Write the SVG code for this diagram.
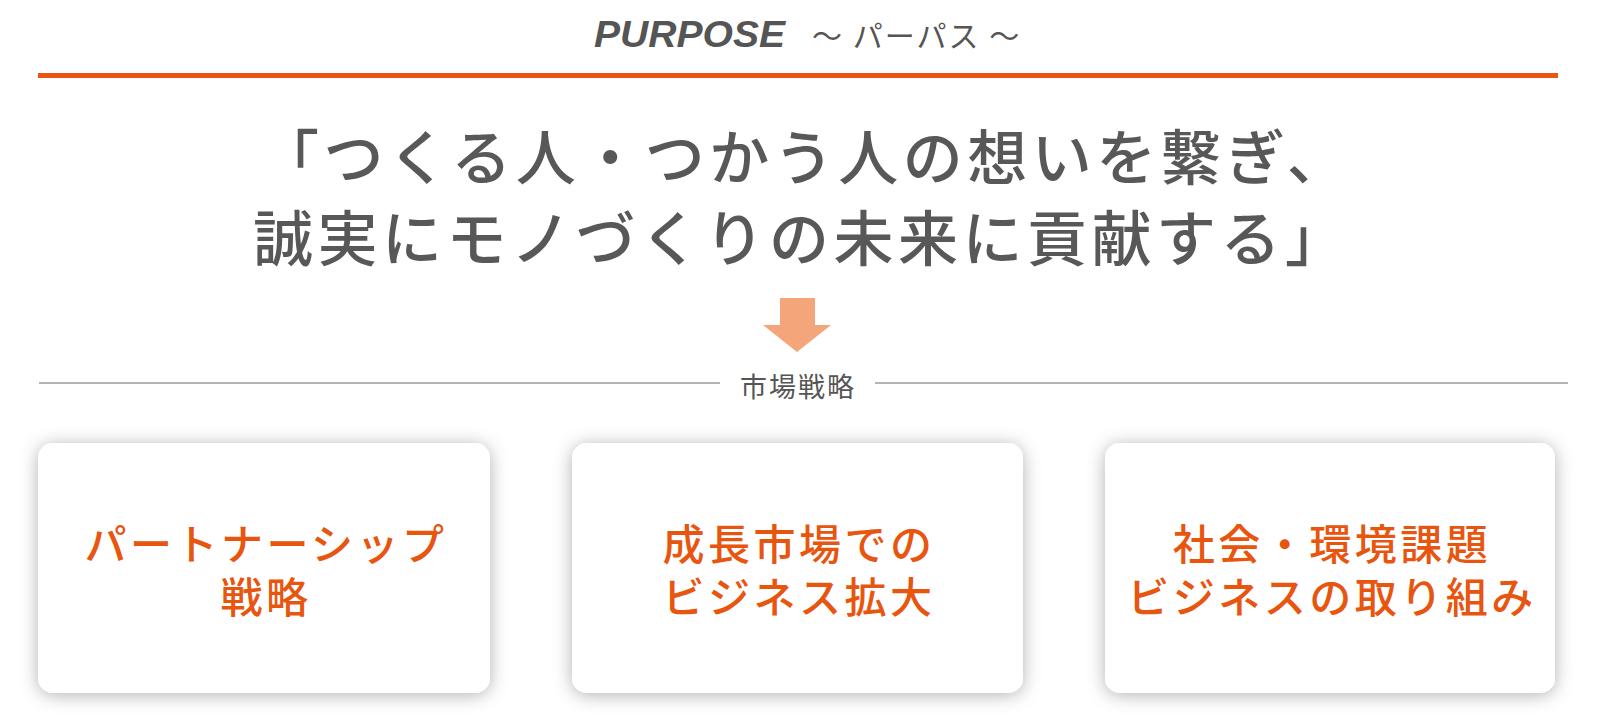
<svg xmlns="http://www.w3.org/2000/svg" width="1600" height="718" viewBox="0 0 1600 718">
<style>
.jp{font-family:"Noto Sans CJK JP","Noto Sans",sans-serif}
.ttl{font-family:"Liberation Sans",Arial,sans-serif;font-weight:700;font-style:italic;font-size:37px;fill:#555}
.sub{font-size:30px;fill:#555;letter-spacing:2px}
.main{font-size:60px;font-weight:500;fill:#585858;letter-spacing:4.5px}
.lbl{font-size:27px;fill:#555;letter-spacing:2px}
.card{fill:#fff;filter:url(#sh)}
.ct{font-size:42px;font-weight:500;fill:#E8550F;letter-spacing:3.5px;text-anchor:middle}
</style>
<defs>
<filter id="sh" x="-10%" y="-20%" width="120%" height="140%">
<feDropShadow dx="0" dy="2" stdDeviation="9" flood-color="#000" flood-opacity="0.3"/>
</filter>
</defs>
<rect width="1600" height="718" fill="#fff"/>
<g id="header">
<text class="ttl" x="594" y="47" textLength="191" lengthAdjust="spacingAndGlyphs">PURPOSE</text>
<text class="jp sub" x="812" y="47">～ パーパス ～</text>
<rect x="38" y="73" width="1520" height="5" fill="#EA5512"/>
</g>
<g id="purpose">
<text class="jp main" x="259" y="180">「つくる人・つかう人の想いを繋ぎ、</text>
<text class="jp main" x="253" y="261">誠実にモノづくりの未来に貢献する」</text>
</g>
<g id="connectors">
<polygon points="780,298 815,298 815,325 831,325 797,352 763,325 780,325" fill="#F4A57A"/>
<line x1="39" y1="383" x2="720" y2="383" stroke="#b4b4b4" stroke-width="2"/>
<line x1="875" y1="383" x2="1568" y2="383" stroke="#b4b4b4" stroke-width="2"/>
</g>
<g id="market">
<text class="jp lbl" x="798" y="397" text-anchor="middle">市場戦略</text>
</g>
<g id="card1">
<rect class="card" x="38" y="443" width="452" height="250" rx="15"/>
<text class="jp ct"><tspan x="266" y="560">パートナーシップ</tspan><tspan x="266" y="613">戦略</tspan></text>
</g>
<g id="card2">
<rect class="card" x="572" y="443" width="451" height="250" rx="15"/>
<text class="jp ct"><tspan x="799" y="560">成長市場での</tspan><tspan x="799" y="613">ビジネス拡大</tspan></text>
</g>
<g id="card3">
<rect class="card" x="1105" y="443" width="450" height="250" rx="15"/>
<text class="jp ct"><tspan x="1332" y="560">社会・環境課題</tspan><tspan x="1332" y="613">ビジネスの取り組み</tspan></text>
</g>
</svg>
